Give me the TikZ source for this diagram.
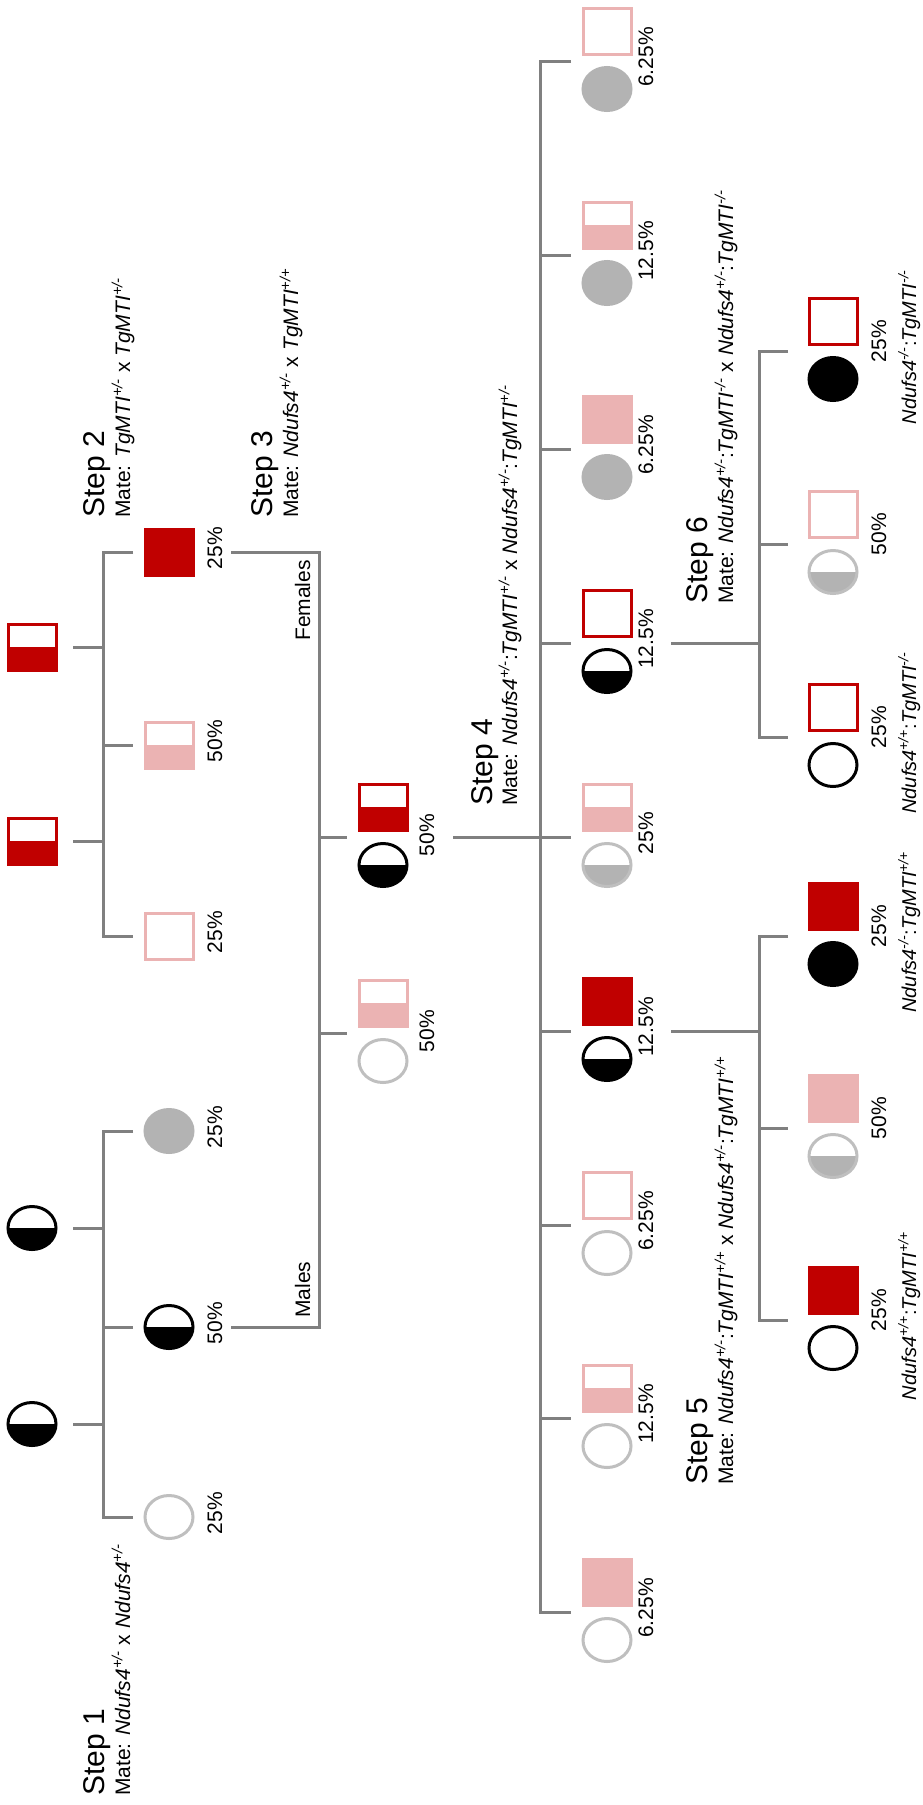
\documentclass[tikz,border=0pt]{standalone}
\usepackage{fontspec}
\setmainfont{Liberation Sans}
\usetikzlibrary{shapes.geometric}
\definecolor{myred}{HTML}{C00000}
\definecolor{mypink}{HTML}{EBB3B3}
\definecolor{gfill}{HTML}{B3B3B3}
\definecolor{gline}{HTML}{BFBFBF}
\definecolor{conngray}{HTML}{808080}
\newcommand{\NdG}[1]{\textit{Ndufs4}\textsuperscript{\textit{#1}}}
\newcommand{\TgG}[1]{\textit{TgMTI}\textsuperscript{\textit{#1}}}
\begin{document}
\begin{tikzpicture}[x=1pt,y=-1pt,
  conn/.style={draw=conngray, line width=3pt},
  shp/.style={inner sep=0pt, outer sep=0pt, line width=3pt},
  sqbase/.style={shp, rectangle, minimum width=48pt, minimum height=46pt},
  cibase/.style={shp, ellipse, minimum width=48pt, minimum height=43pt},
  sqfull/.style={sqbase, draw=#1, fill=#1},
  sqopen/.style={sqbase, draw=#1, fill=white},
  sqhalf/.style={sqbase, draw=#1, fill=white, path picture={\fill[#1] (path picture bounding box.west) rectangle (path picture bounding box.south east);}},
  cifull/.style={cibase, draw=#1, fill=#1},
  ciopen/.style={cibase, draw=#1, fill=white},
  cihalf/.style 2 args={cibase, draw=#1, fill=white, path picture={\fill[#2] (path picture bounding box.west) rectangle (path picture bounding box.south east);}},
  pct/.style={rotate=90, anchor=base, inner sep=0pt, font=\fontsize{21}{25}\selectfont},
  stitle/.style={rotate=90, anchor=base west, inner sep=0pt, font=\fontsize{30}{36}\selectfont},
  mate/.style={rotate=90, anchor=base west, inner sep=0pt, font=\fontsize{21}{25}\selectfont},
  geno/.style={rotate=90, anchor=base, inner sep=0pt, font=\fontsize{20}{24}\selectfont},
  sexlab/.style={rotate=90, anchor=base west, inner sep=0pt, font=\fontsize{21}{25}\selectfont}
]
\useasboundingbox (0,0) rectangle (922,1805);
\fill[white] (0,0) rectangle (922,1805);

% ================= Step 1
\node[cihalf={black}{black}] (s1p1) at (32,1228) {};
\node[cihalf={black}{black}] (s1p2) at (32,1424) {};
\node[cifull=gfill] (s1c1) at (169,1131) {};
\node[cihalf={black}{black}] (s1c2) at (169,1327) {};
\node[ciopen=gline] (s1c3) at (169,1517) {};
\node[pct] (s1l1) at (222,1127) {25\%};
\node[pct] (s1l2) at (222,1323) {50\%};
\node[pct] (s1l3) at (222,1513) {25\%};
\coordinate (s1v) at (103,0);
\draw[conn] ([xshift=17]s1p1.east) -- (s1p1 -| s1v);
\draw[conn] ([xshift=17]s1p2.east) -- (s1p2 -| s1v);
\draw[conn] ([xshift=-12]s1c1.west) -- (s1c1 -| s1v) -- (s1c3 -| s1v) -- ([xshift=-12]s1c3.west);
\draw[conn] (s1c2 -| s1v) -- ([xshift=-12]s1c2.west);
\node[stitle] (st1) at (104,1796) {Step 1};
\node[mate] (m1) at (130,1796) {Mate: \NdG{+/-} x \NdG{+/-}};

% ================= Step 2
\node[sqhalf=myred] (s2p1) at (32,647) {};
\node[sqhalf=myred] (s2p2) at (32,841) {};
\node[sqfull=myred] (s2c1) at (169,552) {};
\node[sqhalf=mypink] (s2c2) at (169,745) {};
\node[sqopen=mypink] (s2c3) at (169,936) {};
\node[pct] (s2l1) at (222,548) {25\%};
\node[pct] (s2l2) at (222,741) {50\%};
\node[pct] (s2l3) at (222,932) {25\%};
\coordinate (s2v) at (103,0);
\draw[conn] ([xshift=17]s2p1.east) -- (s2p1 -| s2v);
\draw[conn] ([xshift=17]s2p2.east) -- (s2p2 -| s2v);
\draw[conn] ([xshift=-12]s2c1.west) -- (s2c1 -| s2v) -- (s2c3 -| s2v) -- ([xshift=-12]s2c3.west);
\draw[conn] (s2c2 -| s2v) -- ([xshift=-12]s2c2.west);
\node[stitle] (st2) at (104,518) {Step 2};
\node[mate] (m2) at (130,518) {Mate: \TgG{+/-} x \TgG{+/-}};

% ================= Step 3
\coordinate (s3v) at (319,0);
\draw[conn] ([xshift=38]s1c2.east) -- (s1c2 -| s3v) -- (s2c1 -| s3v) -- ([xshift=38]s2c1.east);
\node[sexlab] (males) at (310,1318) {Males};
\node[sexlab] (females) at (310,641) {Females};
\coordinate (s3t1) at (347,837);
\coordinate (s3t2) at (347,1033);
\node[sqhalf=myred] (s3q1) at (383,807) {};
\node[cihalf={black}{black}] (s3o1) at (383,865) {};
\node[sqhalf=mypink] (s3q2) at (383,1003) {};
\node[ciopen=gline] (s3o2) at (383,1061) {};
\draw[conn] (s3t1 -| s3v) -- (s3t1);
\draw[conn] (s3t2 -| s3v) -- (s3t2);
\node[pct] (s3l1) at (434,835) {50\%};
\node[pct] (s3l2) at (434,1031) {50\%};
\node[stitle] (st3) at (272,518) {Step 3};
\node[mate] (m3) at (298,518) {Mate: \NdG{+/-} x \TgG{+/+}};

% ================= Step 4
\coordinate (s4v) at (540,0);
\coordinate (s4in) at (453,837);
\coordinate (s4t1) at (571,61);
\coordinate (s4t2) at (571,255);
\coordinate (s4t3) at (571,449);
\coordinate (s4t4) at (571,643);
\coordinate (s4t5) at (571,837);
\coordinate (s4t6) at (571,1031);
\coordinate (s4t7) at (571,1225);
\coordinate (s4t8) at (571,1418);
\coordinate (s4t9) at (571,1612);
\draw[conn] (s4in) -- (s4in -| s4v);
\draw[conn] (s4t1) -- (s4t1 -| s4v) -- (s4t9 -| s4v) -- (s4t9);
\foreach \i in {2,...,8} \draw[conn] (s4t\i -| s4v) -- (s4t\i);
\node[sqopen=mypink] (s4q1) at (607,31) {};
\node[cifull=gfill] (s4o1) at (607,89) {};
\node[sqhalf=mypink] (s4q2) at (607,225) {};
\node[cifull=gfill] (s4o2) at (607,283) {};
\node[sqfull=mypink] (s4q3) at (607,419) {};
\node[cifull=gfill] (s4o3) at (607,477) {};
\node[sqopen=myred] (s4q4) at (607,613) {};
\node[cihalf={black}{black}] (s4o4) at (607,671) {};
\node[sqhalf=mypink] (s4q5) at (607,807) {};
\node[cihalf={gline}{gfill}] (s4o5) at (607,865) {};
\node[sqfull=myred] (s4q6) at (607,1001) {};
\node[cihalf={black}{black}] (s4o6) at (607,1059) {};
\node[sqopen=mypink] (s4q7) at (607,1195) {};
\node[ciopen=gline] (s4o7) at (607,1253) {};
\node[sqhalf=mypink] (s4q8) at (607,1388) {};
\node[ciopen=gline] (s4o8) at (607,1446) {};
\node[sqfull=mypink] (s4q9) at (607,1582) {};
\node[ciopen=gline] (s4o9) at (607,1640) {};
\node[pct] (s4l1) at (653,57) {6.25\%};
\node[pct] (s4l2) at (653,251) {12.5\%};
\node[pct] (s4l3) at (653,445) {6.25\%};
\node[pct] (s4l4) at (653,639) {12.5\%};
\node[pct] (s4l5) at (653,833) {25\%};
\node[pct] (s4l6) at (653,1027) {12.5\%};
\node[pct] (s4l7) at (653,1221) {6.25\%};
\node[pct] (s4l8) at (653,1414) {12.5\%};
\node[pct] (s4l9) at (653,1608) {6.25\%};
\node[stitle] (st4) at (492,806) {Step 4};
\node[mate] (m4) at (517,806) {Mate: \NdG{+/-}:\TgG{+/-} x \NdG{+/-}:\TgG{+/-}};

% ================= Step 6
\coordinate (s56v) at (759,0);
\coordinate (s6in) at (671,643);
\coordinate (s6t1) at (788,351);
\coordinate (s6t2) at (788,544);
\coordinate (s6t3) at (788,737);
\draw[conn] (s6in) -- (s6in -| s56v);
\draw[conn] (s6t1) -- (s6t1 -| s56v) -- (s6t3 -| s56v) -- (s6t3);
\draw[conn] (s6t2 -| s56v) -- (s6t2);
\node[sqopen=myred] (s6q1) at (833,321) {};
\node[cifull=black] (s6o1) at (833,379) {};
\node[sqopen=mypink] (s6q2) at (833,514) {};
\node[cihalf={gline}{gfill}] (s6o2) at (833,572) {};
\node[sqopen=myred] (s6q3) at (833,707) {};
\node[ciopen=black] (s6o3) at (833,765) {};
\node[pct] (s6l1) at (886,341) {25\%};
\node[pct] (s6l2) at (886,534) {50\%};
\node[pct] (s6l3) at (886,727) {25\%};
\node[geno] (g6a) at (916,347) {\NdG{-/-}:\TgG{-/-}};
\node[geno] (g6b) at (916,733) {\NdG{+/+}:\TgG{-/-}};
\node[stitle] (st6) at (707,604) {Step 6};
\node[mate] (m6) at (733,604) {Mate: \NdG{+/-}:\TgG{-/-} x \NdG{+/-}:\TgG{-/-}};

% ================= Step 5
\coordinate (s5in) at (671,1031);
\coordinate (s5t1) at (788,936);
\coordinate (s5t2) at (788,1128);
\coordinate (s5t3) at (788,1320);
\draw[conn] (s5in) -- (s5in -| s56v);
\draw[conn] (s5t1) -- (s5t1 -| s56v) -- (s5t3 -| s56v) -- (s5t3);
\draw[conn] (s5t2 -| s56v) -- (s5t2);
\node[sqfull=myred] (s5q1) at (833,906) {};
\node[cifull=black] (s5o1) at (833,964) {};
\node[sqfull=mypink] (s5q2) at (833,1098) {};
\node[cihalf={gline}{gfill}] (s5o2) at (833,1156) {};
\node[sqfull=myred] (s5q3) at (833,1290) {};
\node[ciopen=black] (s5o3) at (833,1348) {};
\node[pct] (s5l1) at (886,926) {25\%};
\node[pct] (s5l2) at (886,1118) {50\%};
\node[pct] (s5l3) at (886,1310) {25\%};
\node[geno] (g5a) at (916,932) {\NdG{-/-}:\TgG{+/+}};
\node[geno] (g5b) at (916,1316) {\NdG{+/+}:\TgG{+/+}};
\node[stitle] (st5) at (707,1485) {Step 5};
\node[mate] (m5) at (733,1485) {Mate: \NdG{+/-}:\TgG{+/+} x \NdG{+/-}:\TgG{+/+}};
\end{tikzpicture}
\end{document}
